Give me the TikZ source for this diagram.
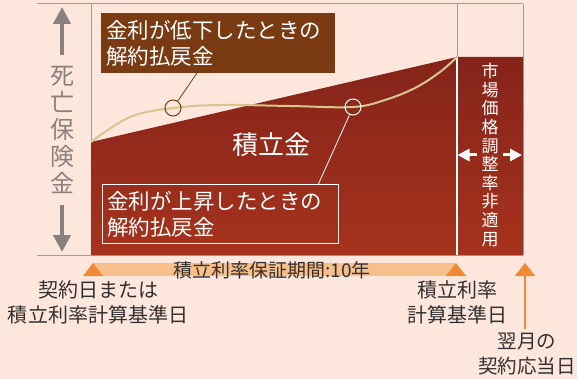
\documentclass[tikz,border=0pt]{standalone}
\usepackage{fontspec}
\setmainfont{Noto Sans CJK JP}
\usetikzlibrary{arrows.meta}

\definecolor{fond}{HTML}{FDE6DC}
\definecolor{rouge}{HTML}{9C2A1F}
\definecolor{brun}{HTML}{7A3B12}
\definecolor{sable}{HTML}{D9C68E}
\definecolor{gris}{HTML}{8A807E}
\definecolor{trait}{HTML}{A89C98}
\definecolor{orangeclair}{HTML}{F9BF8A}
\definecolor{orangefonce}{HTML}{F08A35}
\definecolor{encre}{HTML}{333030}

\tikzset{cadre/.style = {draw=trait, line width=1},
         boite/.style = {text=white, align=left, inner sep=5, text width=#1,
                         minimum height=58,
                         font=\fontsize{21.5}{26}\selectfont},
         boite/.default=224,
         rond/.style = {circle, minimum size=16, inner sep=0, line width=1},
         legende/.style = {align=center, text=encre,
                           font=\fontsize{20}{25}\selectfont},
         fleche/.style = {-{Triangle[width=#1,length=#1]}},
        }

\begin{document}
\begin{tikzpicture}[x=1pt, y=-1pt]
  \useasboundingbox[fill=fond] (0,0) rectangle (577,379);

  % cadre
  \draw[cadre] (37,4) -- (523,4)  (37,255) -- (523,255)
               (91,4) -- (91,255)  (457,4) -- (457,57)  (523,4) -- (523,255);

  % zone du capital
  \shade[top color=rouge!85!black, bottom color=rouge!90!orange]
        (91,142) -- (457,57) -- (523,57) -- (523,255) -- (91,255) -- cycle;
  \draw[white, line width=1.2] (457,57) -- (457,255);

  % courbe du rachat
  \draw[sable, line width=2] plot[smooth, tension=0.6]
        coordinates {(91,142) (130,117) (173,108) (220,105) (290,106)
                     (353,107) (385,100) (415,88) (440,72) (457,57)};

  \node[rond, draw=brun] (c1) at (173,108) {};
  \node[rond, draw=white] (c2) at (353,107) {};

  \node[boite, fill=brun, minimum height=60] (bas) at (218,43)
       {金利が低下したときの\\解約払戻金};
  \node[boite=226, draw=white, line width=1] (haut) at (220,214)
       {金利が上昇したときの\\解約払戻金};
  \coordinate (p1) at (197,73);
  \coordinate (p2) at (318,185);
  \draw[brun, line width=0.8] (c1) -- (p1);
  \draw[white, line width=0.8] (c2) -- (p2);

  \node[text=white, font=\fontsize{26}{30}\selectfont] (fonds) at (271,145) {積立金};

  % axe de gauche
  \node[align=center, text=gris, font=\fontsize{24}{27}\selectfont] (deces) at (62,130)
       {死\\亡\\保\\険\\金};
  \coordinate (g1) at (62,55);
  \coordinate (g2) at (62,7);
  \coordinate (g3) at (62,205);
  \coordinate (g4) at (62,252);
  \draw[gris, line width=4, fleche=17] (g1) -- (g2);
  \draw[gris, line width=4, fleche=17] (g3) -- (g4);

  % zone de droite
  \node[align=center, text=white, font=\fontsize{17}{18.6}\selectfont] (marche) at (490,155)
       {市\\場\\価\\格\\調\\整\\率\\非\\適\\用};
  \coordinate (d1) at (477,155);
  \coordinate (d2) at (457.5,155);
  \coordinate (d3) at (503,155);
  \coordinate (d4) at (522,155);
  \draw[white, line width=3, fleche=12] (d1) -- (d2);
  \draw[white, line width=3, fleche=12] (d3) -- (d4);

  % periode garantie
  \fill[orangeclair] (93,263) rectangle (455,276);
  \fill[orangefonce] (83,276) -- (93,263) -- (103,276) -- cycle;
  \fill[orangefonce] (446,276) -- (456,263) -- (466,276) -- cycle;
  \node[text=encre, font=\fontsize{19}{22}\selectfont] (periode) at (272,270)
       {積立利率保証期間:10年};
  \coordinate (o1) at (525,329);
  \coordinate (o2) at (525,263);
  \draw[orangefonce, line width=2, -{Triangle[width=20,length=13]}] (o1) -- (o2);

  \node[legende] (debut) at (98,302) {契約日または\\積立利率計算基準日};
  \node[legende] (fin) at (457,302) {積立利率\\計算基準日};
  \node[legende, font=\fontsize{19.5}{25}\selectfont] (echeance) at (527,354)
       {翌月の\\契約応当日};
\end{tikzpicture}
\end{document}
